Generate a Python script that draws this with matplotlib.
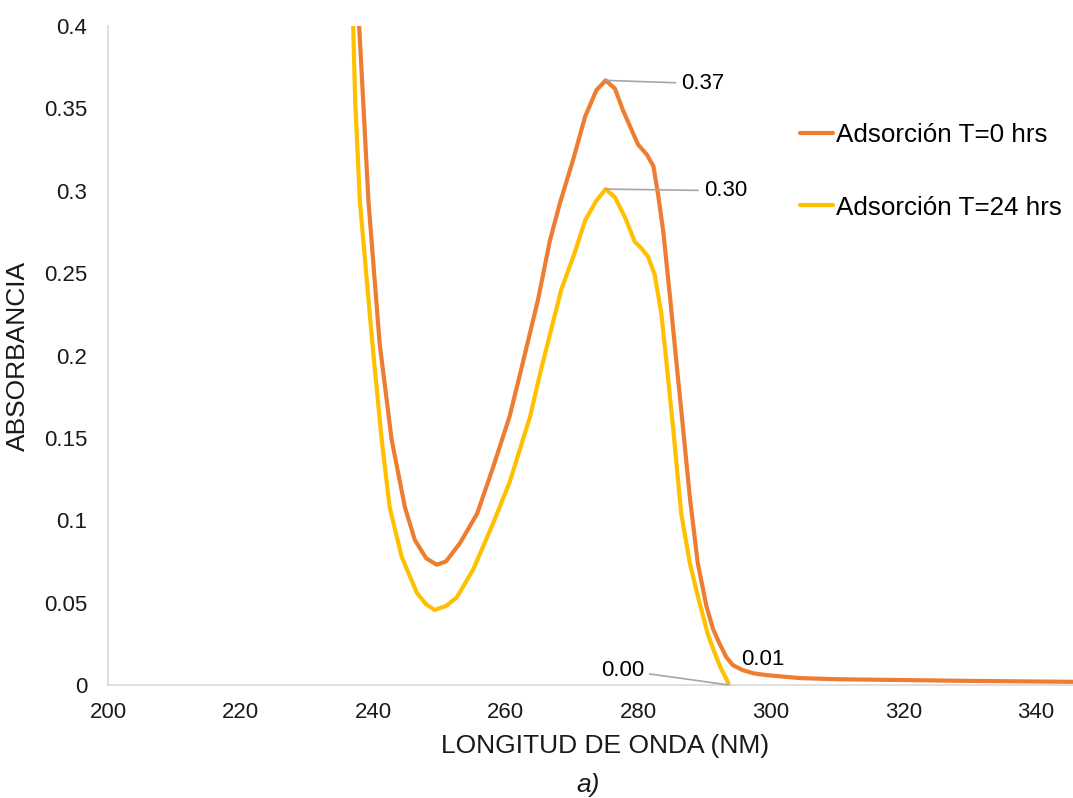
import matplotlib
matplotlib.use('Agg')
import matplotlib.pyplot as plt

plt.rcParams['font.family'] = ['Liberation Sans', 'DejaVu Sans']

# Espectro UV-Vis, absorbancia frente a longitud de onda (nm)
wl_t0 = [236.8, 237.9, 238.5, 239.3, 241.0, 242.8, 244.8, 246.3, 248.0, 249.6,
         251.0, 253.1, 255.7, 258.1, 260.6, 262.2, 264.9, 266.7, 268.2, 270.2,
         272.0, 273.7, 275.1, 276.5, 277.7, 279.0, 280.0, 281.3, 282.3, 283.0,
         283.8, 284.8, 285.8, 286.8, 287.8, 289.0, 290.3, 291.3, 292.3, 293.3,
         294.3, 295.8, 297.5, 299.4, 304.4, 310.0, 320.0, 330.0, 343.6, 350.0]
abs_t0 = [0.460, 0.400, 0.355, 0.294, 0.207, 0.149, 0.108, 0.088, 0.077, 0.073,
          0.075, 0.086, 0.104, 0.132, 0.163, 0.189, 0.234, 0.270, 0.2925, 0.319,
          0.345, 0.361, 0.367, 0.362, 0.349, 0.337, 0.328, 0.322, 0.315, 0.298,
          0.275, 0.236, 0.195, 0.155, 0.114, 0.074, 0.048, 0.034, 0.025, 0.017,
          0.012, 0.009, 0.007, 0.006, 0.0042, 0.0035, 0.0030, 0.0025, 0.0020, 0.0018]

wl_t24 = [236.5, 237.0, 237.3, 238.0, 239.9, 241.3, 242.5, 244.3, 246.6, 248.0,
          249.3, 251.0, 252.6, 255.1, 258.1, 260.6, 263.7, 265.2, 268.4, 270.4,
          272.0, 273.7, 275.1, 276.5, 278.0, 279.5, 280.5, 281.5, 282.5, 283.5,
          284.3, 285.3, 286.5, 287.8, 289.0, 290.5, 291.5, 292.5, 293.4, 293.7]
abs_t24 = [0.460, 0.400, 0.355, 0.294, 0.207, 0.149, 0.108, 0.078, 0.056, 0.049,
           0.0455, 0.048, 0.053, 0.070, 0.098, 0.123, 0.163, 0.189, 0.240, 0.262,
           0.282, 0.294, 0.301, 0.296, 0.284, 0.269, 0.265, 0.260, 0.249, 0.2255,
           0.195, 0.155, 0.104, 0.074, 0.054, 0.031, 0.020, 0.010, 0.003, 0.0]

series_labels = ['Adsorción T=0 hrs', 'Adsorción T=24 hrs']
colors = ['#ED7D31', '#FFC000']

fig = plt.figure(figsize=(10.73, 7.98), dpi=100)
ax = fig.add_axes([108 / 1073, 1 - 685 / 798, (1102 - 108) / 1073, (685 - 26) / 798])

ax.plot(wl_t0, abs_t0, color=colors[0], lw=3, label=series_labels[0],
        solid_capstyle='round', solid_joinstyle='round')
ax.plot(wl_t24, abs_t24, color=colors[1], lw=3, label=series_labels[1],
        solid_capstyle='round', solid_joinstyle='round')

ax.set_xlim(200, 350)
ax.set_ylim(0, 0.4)
ax.set_xticks(range(200, 341, 20))
ax.set_yticks([0, 0.05, 0.1, 0.15, 0.2, 0.25, 0.3, 0.35, 0.4])
ax.set_yticklabels(['0', '0.05', '0.1', '0.15', '0.2', '0.25', '0.3', '0.35', '0.4'])
ax.tick_params(axis='both', length=0, labelsize=16, colors='#1a1a1a')
ax.tick_params(axis='x', pad=12)
ax.tick_params(axis='y', pad=15)

for s in ['top', 'right']:
    ax.spines[s].set_visible(False)
for s in ['left', 'bottom']:
    ax.spines[s].set_color('#D9D9D9')
    ax.spines[s].set_linewidth(1.2)

ax.set_xlabel('LONGITUD DE ONDA (NM)', fontsize=19, color='#1a1a1a', labelpad=8)
ax.set_ylabel('ABSORBANCIA', fontsize=19, color='#1a1a1a', labelpad=10)


def peak_index(wl, ab, lo=260):
    # máximo de la banda principal (se ignora la subida por debajo de 240 nm)
    cand = [i for i, w in enumerate(wl) if w >= lo]
    return max(cand, key=lambda i: ab[i])


# etiquetas de datos
lead = dict(arrowstyle='-', color='#A6A6A6', lw=1.2, shrinkA=2, shrinkB=0)
i0 = peak_index(wl_t0, abs_t0)
ax.annotate(f'{abs_t0[i0]:.2f}', xy=(wl_t0[i0], abs_t0[i0]), xytext=(286.5, 0.365),
            ha='left', va='center', fontsize=16, arrowprops=lead)
i24 = peak_index(wl_t24, abs_t24)
ax.annotate(f'{abs_t24[i24]:.2f}', xy=(wl_t24[i24], abs_t24[i24]), xytext=(289.9, 0.300),
            ha='left', va='center', fontsize=16, arrowprops=lead)
ax.annotate(f'{abs_t24[-1]:.2f}', xy=(wl_t24[-1], abs_t24[-1]), xytext=(280.9, 0.009),
            ha='right', va='center', fontsize=16, arrowprops=lead, annotation_clip=False)
i01 = wl_t0.index(295.8)
ax.annotate(f'{abs_t0[i01]:.2f}', xy=(wl_t0[i01], abs_t0[i01]), xytext=(295.6, 0.0155),
            ha='left', va='center', fontsize=16)

fig.legend(loc='center left', bbox_to_anchor=(800 / 1073, 1 - 171.5 / 798),
           frameon=False, fontsize=18.7, handlelength=1.27, handletextpad=0.1,
           labelspacing=1.85, borderpad=0, borderaxespad=0)

fig.text(588 / 1073, 1 - 785 / 798, 'a)', fontsize=19, style='italic',
         ha='center', va='center', color='#1a1a1a')

fig.savefig('out.png', dpi=100)
